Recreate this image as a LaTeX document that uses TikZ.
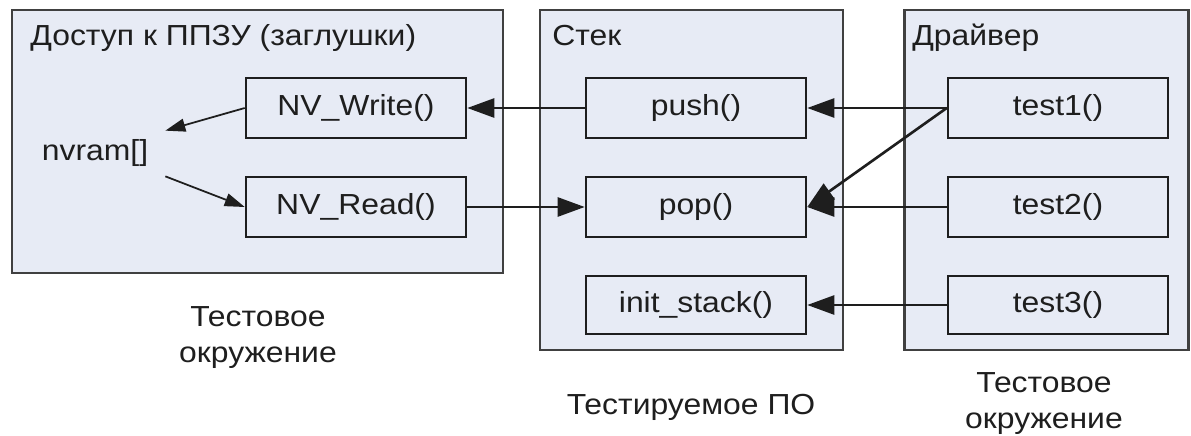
\documentclass[tikz,border=0pt]{standalone}
\usepackage{fontspec}
\setmainfont{Liberation Sans}[FakeStretch=1.1]
\usetikzlibrary{arrows.meta,positioning}
\definecolor{panelfill}{RGB}{231,235,245}
\definecolor{ink}{RGB}{30,30,30}

\begin{document}
\begin{tikzpicture}[x=0.02cm, y=-0.02cm,
    font=\fontsize{16.5}{20.5}\selectfont, text=ink,
    panel/.style={draw=ink!85, line width=1.2pt, fill=panelfill, inner sep=0pt},
    func/.style={draw=ink, line width=1.5pt, fill=panelfill, minimum width=4.4cm, minimum height=1.2cm, inner sep=0pt},
    ttl/.style={anchor=base west, inner sep=0pt},
    note/.style={align=center, inner sep=0pt},
    arr/.style={-{Triangle[length=0.54cm, width=0.38cm]}, line width=1.5pt, draw=ink},
    sarr/.style={-{Triangle[length=0.4cm, width=0.26cm]}, line width=1pt, draw=ink}
]
\useasboundingbox (0,0) rectangle (1191,436);

% panels
\node[panel, minimum width=9.82cm, minimum height=5.26cm] (acc) at (257.5,141.5) {};
\node[panel, minimum width=6.06cm, minimum height=6.8cm] (stk) at (691.5,180) {};
\node[panel, minimum width=5.68cm, minimum height=6.8cm] (drv) at (1046.5,180) {};

\node[ttl] (accT) at (30,46) {Доступ к ППЗУ (заглушки)};
\node[ttl] (stkT) at (552,46) {Стек};
\node[ttl] (drvT) at (912,46) {Драйвер};

% functions
\node[func] (W) at (356,108) {NV\_Write()};
\node[func] (R) at (356,207) {NV\_Read()};
\node[minimum width=2.8cm, minimum height=0.9cm, inner sep=0pt] (nv) at (95,153.5) {nvram[]};

\node[func] (push) at (696,108) {push()};
\node[func] (pop) at (696,207) {pop()};
\node[func, minimum height=1.16cm] (init) at (696,305) {init\_stack()};

\node[func] (t1) at (1058,108) {test1()};
\node[func] (t2) at (1058,207) {test2()};
\node[func, minimum height=1.16cm] (t3) at (1058,305) {test3()};

% labels below
\node[note] (envL) at (258,338) {Тестовое\\окружение};
\node[note, anchor=base] (sut) at (691,414) {Тестируемое ПО};
\node[note] (envR) at (1044,404) {Тестовое\\окружение};

% calls
\draw[arr] (t1.west) -- (push.east);
\draw[arr] (t1.west) -- (pop.east);
\draw[arr] (t2.west) -- (pop.east);
\draw[arr] (t3.west) -- (init.east);
\draw[arr] (push.west) -- (W.east);
\draw[arr] (R.east) -- (pop.west);
\draw[sarr] (W.west) -- (nv.north east);
\draw[sarr] (nv.south east) -- (R.west);
\end{tikzpicture}
\end{document}
